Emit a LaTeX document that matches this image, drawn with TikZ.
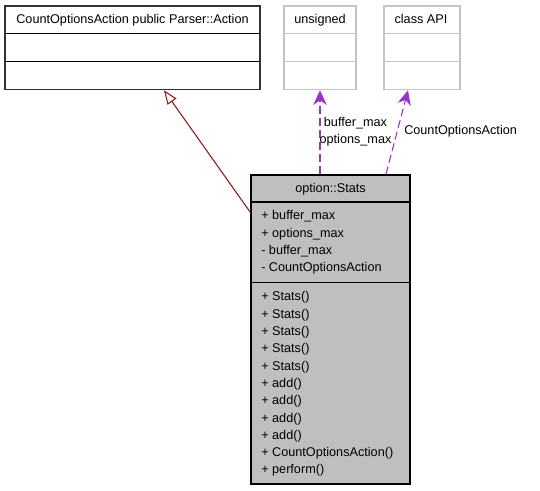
\documentclass[tikz,border=0pt]{standalone}
\usepackage{fontspec}
\setmainfont{Liberation Sans}
\usetikzlibrary{arrows.meta}
\definecolor{purp}{HTML}{9A32CD}
\definecolor{inh}{HTML}{8B1A1A}
\definecolor{lgray}{HTML}{C4C4C4}
\definecolor{sfill}{HTML}{BFBFBF}
\begin{document}
\begin{tikzpicture}[x=0.75pt,y=-0.75pt,
  font=\fontsize{9.5}{11}\selectfont,
  umlbox/.style={draw, inner sep=0pt, minimum height=62.625pt, line width=1.1pt},
  sep/.style={line width=1.1pt},
  txt/.style={inner sep=0pt, anchor=base},
  member/.style={inner sep=0pt, anchor=base west},
  usage/.style={purp, line width=0.8pt, dash pattern=on 6pt off 3pt,
    -{Stealth[length=11pt,width=10pt,inset=3.5pt]}},
  inherit/.style={inh, line width=0.8pt,
    -{Triangle[open,length=10.5pt,width=8pt,line width=0.8pt]}}]
\useasboundingbox (0,0) rectangle (540,491);
\fill[white] (0,0) rectangle (540,491);

% base class
\node[umlbox, draw=black!80, minimum width=191.25pt] (A) at (132.5,47.75) {};
\draw[sep] (5,33.7) -- (260,33.7);
\draw[sep] (5,61.7) -- (260,61.7);
\node[txt] (At) at (132.5,23.3) {CountOptionsAction public Parser::Action};

% unsigned
\node[umlbox, draw=lgray, minimum width=54pt] (U) at (320,47.75) {};
\draw[sep, lgray] (284,33.7) -- (356,33.7);
\draw[sep, lgray] (284,61.7) -- (356,61.7);
\node[txt] (Ut) at (320,23.3) {unsigned};

% class API
\node[umlbox, draw=lgray, minimum width=57pt] (P) at (422,47.75) {};
\draw[sep, lgray] (384,33.7) -- (460,33.7);
\draw[sep, lgray] (384,61.7) -- (460,61.7);
\node[txt] (Pt) at (421,23.3) {class API};

% option::Stats
\node[draw, fill=sfill, line width=1.1pt, inner sep=0pt,
  minimum width=119.25pt, minimum height=231.75pt] (S) at (330.5,329.5) {};
\draw[sep] (251,201.9) -- (410,201.9);
\draw[sep] (251,282.7) -- (410,282.7);
\node[txt] (St) at (330.5,192.3) {option::Stats};

\foreach \t [count=\i] in {+ buffer\_max, + options\_max, - buffer\_max, - CountOptionsAction}
  \node[member] (a\i) at (261,{220+17.25*(\i-1)}) {\t};

\foreach \t [count=\i] in {+ Stats(), + Stats(), + Stats(), + Stats(), + Stats(),
  + add(), + add(), + add(), + add(), + CountOptionsAction(), + perform()}
  \node[member] (m\i) at (261,{300.7+17.33*(\i-1)}) {\t};

% connectors
\draw[inherit] ([yshift=-28.5pt]S.north west) -- ([xshift=23.6pt]A.south);
\draw[usage] (U.south |- S.north) -- (U.south);
\draw[usage] ([xshift=41.6pt]S.north) -- ([xshift=-10.5pt]P.south);

% labels
\node[txt] (L1) at (355.5,127) {buffer\_max};
\node[txt] (L2) at (355.5,143.3) {options\_max};
\node[member] (L3) at (404,135) {CountOptionsAction};
\end{tikzpicture}
\end{document}
